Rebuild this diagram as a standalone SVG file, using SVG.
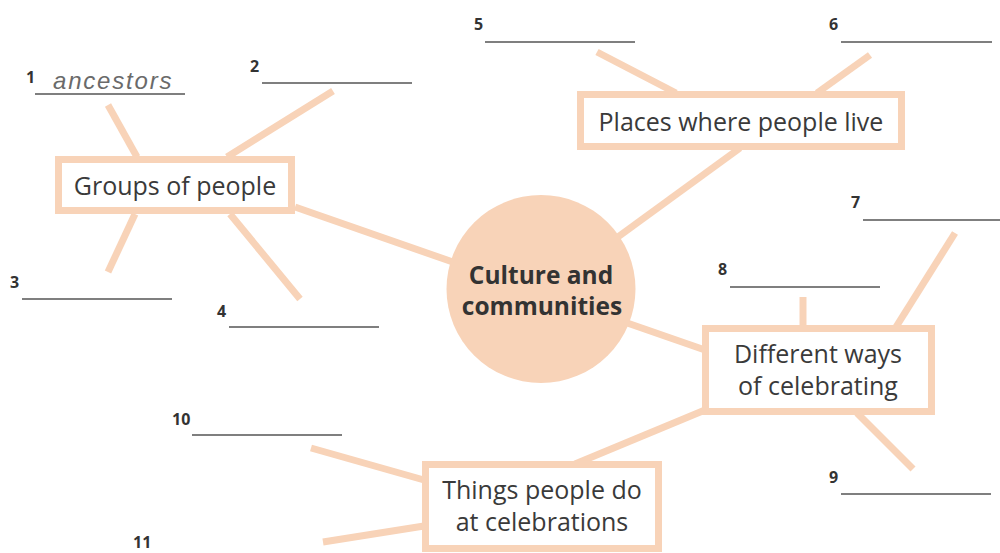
<svg xmlns="http://www.w3.org/2000/svg" width="1000" height="553" viewBox="0 0 1000 553">
<style>
.c{stroke:#f8d3b8;stroke-width:7;fill:none;stroke-linecap:butt}
.box{fill:#ffffff;stroke:#f8d3b8;stroke-width:7}
.t{font-family:"Open Sans","Liberation Sans",sans-serif;font-size:25px;fill:#3a3a3a;text-anchor:middle}
.b{font-family:"Open Sans","Liberation Sans",sans-serif;font-size:24.5px;font-weight:bold;fill:#333333;text-anchor:middle}
.n{font-family:"Open Sans","Liberation Sans",sans-serif;font-size:16px;font-weight:bold;fill:#333333}
.u{stroke:#555555;stroke-width:1.3}
.h{font-family:"Liberation Sans",sans-serif;font-style:italic;font-size:24px;fill:#6a6a6a;letter-spacing:1.8px}
</style>
<g id="connectors">
<line class="c" x1="108" y1="105" x2="137" y2="157"/>
<line class="c" x1="333" y1="91" x2="227" y2="157"/>
<line class="c" x1="108" y1="272" x2="135" y2="214"/>
<line class="c" x1="300" y1="299" x2="230" y2="214"/>
<line class="c" x1="295" y1="207" x2="470" y2="268"/>
<line class="c" x1="597" y1="52" x2="676" y2="93"/>
<line class="c" x1="870" y1="55" x2="817" y2="93"/>
<line class="c" x1="740" y1="148" x2="600" y2="250"/>
<line class="c" x1="610" y1="317" x2="705" y2="350"/>
<line class="c" x1="955" y1="233" x2="896" y2="327"/>
<line class="c" x1="803" y1="297" x2="803" y2="327"/>
<line class="c" x1="857" y1="413" x2="913" y2="469"/>
<line class="c" x1="705" y1="410" x2="575" y2="464"/>
<line class="c" x1="311" y1="448" x2="424" y2="480"/>
<line class="c" x1="323" y1="542" x2="424" y2="526"/>
</g>
<g id="center">
<ellipse cx="541" cy="289" rx="94.5" ry="94" fill="#f8d3b8"/>
<text class="b" x="541" y="284">Culture and</text>
<text class="b" x="542" y="315">communities</text>
</g>
<g id="groups">
<rect class="box" x="58.5" y="159.5" width="233" height="51"/>
<text class="t" x="175" y="195">Groups of people</text>
</g>
<g id="places">
<rect class="box" x="580.5" y="94.5" width="321" height="52"/>
<text class="t" x="741" y="131">Places where people live</text>
</g>
<g id="different">
<rect class="box" x="705.5" y="328.5" width="226" height="83"/>
<text class="t" x="818" y="363">Different ways</text>
<text class="t" x="818" y="395">of celebrating</text>
</g>
<g id="things">
<rect class="box" x="425.5" y="464.5" width="233" height="84"/>
<text class="t" x="542" y="499">Things people do</text>
<text class="t" x="542" y="531">at celebrations</text>
</g>
<g id="label1">
<text class="n" x="26" y="83">1</text>
<text class="h" x="53" y="89">ancestors</text>
<line class="u" x1="35" y1="94" x2="185" y2="94"/>
</g>
<g id="label2">
<text class="n" x="250" y="72">2</text>
<line class="u" x1="262" y1="83" x2="412" y2="83"/>
</g>
<g id="label3">
<text class="n" x="10" y="288">3</text>
<line class="u" x1="22" y1="299" x2="172" y2="299"/>
</g>
<g id="label4">
<text class="n" x="217" y="317">4</text>
<line class="u" x1="229" y1="327" x2="379" y2="327"/>
</g>
<g id="label5">
<text class="n" x="474" y="30">5</text>
<line class="u" x1="485" y1="42" x2="635" y2="42"/>
</g>
<g id="label6">
<text class="n" x="829" y="30">6</text>
<line class="u" x1="841" y1="42" x2="992" y2="42"/>
</g>
<g id="label7">
<text class="n" x="851" y="208">7</text>
<line class="u" x1="863" y1="220" x2="1000" y2="220"/>
</g>
<g id="label8">
<text class="n" x="718" y="275">8</text>
<line class="u" x1="730" y1="287" x2="880" y2="287"/>
</g>
<g id="label9">
<text class="n" x="829" y="483">9</text>
<line class="u" x1="841" y1="494" x2="991" y2="494"/>
</g>
<g id="label10">
<text class="n" x="172" y="425">10</text>
<line class="u" x1="192" y1="435" x2="342" y2="435"/>
</g>
<g id="label11">
<text class="n" x="133" y="548">11</text>
</g>
</svg>
